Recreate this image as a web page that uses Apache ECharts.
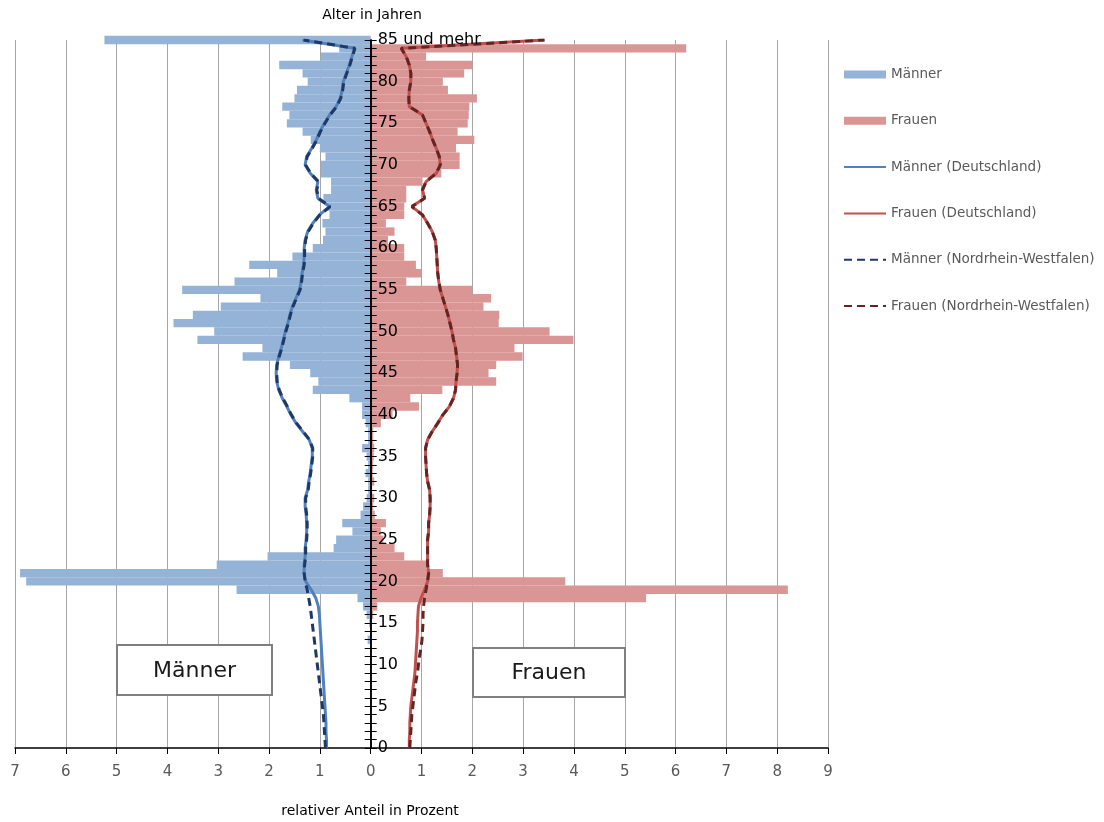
<!DOCTYPE html>
<html>
<head>
<meta charset="utf-8">
<script src="https://cdn.jsdelivr.net/npm/echarts@6/dist/echarts.min.js"></script>
<style>
  html, body { margin: 0; padding: 0; background: #ffffff; }
  #chart { width: 1104px; height: 822px; }
</style>
</head>
<body>
<div id="chart"></div>
<script>
// Age categories (0 .. 85 und mehr)
const ages = [];
for (let a = 0; a <= 84; a++) ages.push(String(a));
ages.push('85 und mehr');

// Relative share in percent (local population, bars)
const menShare = [
  0, 0, 0, 0, 0, 0, 0, 0, 0, 0,
  0, 0, 0, 0.06, 0, 0.03, 0.08, 0.15, 0.26, 2.64,
  6.78, 6.90, 3.03, 2.03, 0.73, 0.68, 0.36, 0.56, 0.20, 0.15,
  0.08, 0.05, 0.05, 0.10, 0.05, 0.08, 0.17, 0.05, 0.05, 0.10,
  0.17, 0.17, 0.42, 1.14, 1.03, 1.19, 1.59, 2.52, 2.13, 3.41,
  3.08, 3.88, 3.50, 2.95, 2.17, 3.71, 2.68, 1.84, 2.39, 1.54,
  1.14, 0.94, 0.89, 0.95, 0.81, 0.85, 0.93, 0.78, 0.78, 0.98,
  0.98, 0.89, 1.00, 1.18, 1.34, 1.65, 1.60, 1.74, 1.50, 1.45,
  1.24, 1.34, 1.80, 0.98, 0.62, 5.24
];
const womenShare = [
  0, 0, 0, 0, 0, 0, 0, 0, 0, 0,
  0, 0, 0, 0, 0, 0, 0, 0.05, 0.13, 5.42,
  8.21, 3.83, 1.42, 1.09, 0.66, 0.47, 0.25, 0.20, 0.30, 0.08,
  0.05, 0.07, 0.03, 0.07, 0.04, 0.05, 0.06, 0.07, 0.05, 0.05,
  0.20, 0.43, 0.95, 0.78, 1.41, 2.47, 2.32, 2.47, 2.99, 2.83,
  3.99, 3.52, 2.52, 2.53, 2.22, 2.37, 2.00, 0.70, 0.99, 0.89,
  0.66, 0.66, 0.34, 0.47, 0.30, 0.66, 0.66, 0.70, 0.70, 1.02,
  1.39, 1.75, 1.75, 1.68, 2.04, 1.71, 1.91, 1.93, 1.94, 2.09,
  1.52, 1.42, 1.84, 2.00, 1.09, 6.21
];

// Germany (lines)
const menDE = [
  0.87, 0.87, 0.88, 0.88, 0.89, 0.90, 0.91, 0.92, 0.93, 0.94,
  0.95, 0.96, 0.97, 0.98, 0.99, 1.00, 1.01, 1.03, 1.08, 1.17,
  1.28, 1.31, 1.31, 1.29, 1.29, 1.27, 1.26, 1.26, 1.27, 1.29,
  1.29, 1.24, 1.22, 1.19, 1.17, 1.15, 1.15, 1.21, 1.34, 1.47,
  1.57, 1.65, 1.74, 1.81, 1.85, 1.86, 1.85, 1.81, 1.76, 1.72,
  1.68, 1.63, 1.59, 1.54, 1.47, 1.40, 1.37, 1.35, 1.32, 1.31,
  1.31, 1.29, 1.24, 1.14, 1.01, 0.81, 1.04, 1.07, 1.04, 1.19,
  1.29, 1.26, 1.16, 1.07, 1.00, 0.91, 0.81, 0.68, 0.60, 0.56,
  0.54, 0.48, 0.42, 0.37, 0.32, 1.34
];
const womenDE = [
  0.76, 0.76, 0.77, 0.77, 0.78, 0.79, 0.81, 0.83, 0.85, 0.87,
  0.88, 0.89, 0.90, 0.91, 0.92, 0.92, 0.93, 0.94, 0.99, 1.06,
  1.12, 1.14, 1.12, 1.12, 1.12, 1.12, 1.14, 1.14, 1.16, 1.17,
  1.17, 1.16, 1.12, 1.10, 1.09, 1.08, 1.08, 1.12, 1.21, 1.32,
  1.42, 1.55, 1.63, 1.67, 1.68, 1.70, 1.71, 1.69, 1.67, 1.63,
  1.60, 1.56, 1.52, 1.47, 1.42, 1.37, 1.34, 1.32, 1.31, 1.30,
  1.29, 1.27, 1.21, 1.12, 1.02, 0.81, 1.06, 1.02, 1.09, 1.29,
  1.37, 1.35, 1.29, 1.22, 1.16, 1.09, 1.02, 0.76, 0.75, 0.76,
  0.79, 0.79, 0.76, 0.70, 0.60, 3.42
];

// Nordrhein-Westfalen (dashed lines)
const menNRW = [
  0.89, 0.90, 0.91, 0.92, 0.93, 0.95, 0.97, 0.99, 1.01, 1.03,
  1.05, 1.07, 1.09, 1.11, 1.13, 1.15, 1.17, 1.19, 1.22, 1.25,
  1.29, 1.31, 1.30, 1.28, 1.28, 1.26, 1.25, 1.25, 1.26, 1.28,
  1.28, 1.23, 1.21, 1.18, 1.16, 1.14, 1.14, 1.20, 1.33, 1.46,
  1.56, 1.64, 1.73, 1.80, 1.84, 1.85, 1.84, 1.80, 1.75, 1.71,
  1.67, 1.62, 1.58, 1.53, 1.46, 1.39, 1.36, 1.34, 1.31, 1.30,
  1.30, 1.28, 1.23, 1.13, 1.00, 0.80, 1.03, 1.06, 1.03, 1.18,
  1.28, 1.25, 1.15, 1.06, 0.99, 0.90, 0.80, 0.67, 0.59, 0.55,
  0.53, 0.47, 0.41, 0.36, 0.31, 1.32
];
const womenNRW = [
  0.77, 0.78, 0.79, 0.80, 0.81, 0.83, 0.85, 0.87, 0.89, 0.92,
  0.94, 0.96, 0.99, 1.01, 1.02, 1.03, 1.03, 1.04, 1.06, 1.09,
  1.12, 1.14, 1.12, 1.12, 1.12, 1.12, 1.14, 1.14, 1.16, 1.17,
  1.17, 1.16, 1.12, 1.10, 1.09, 1.08, 1.08, 1.12, 1.21, 1.32,
  1.42, 1.55, 1.63, 1.67, 1.68, 1.70, 1.71, 1.69, 1.67, 1.63,
  1.60, 1.56, 1.52, 1.47, 1.42, 1.37, 1.34, 1.32, 1.31, 1.30,
  1.29, 1.27, 1.21, 1.12, 1.02, 0.81, 1.06, 1.02, 1.09, 1.29,
  1.37, 1.35, 1.29, 1.22, 1.16, 1.09, 1.02, 0.76, 0.75, 0.76,
  0.79, 0.79, 0.76, 0.70, 0.60, 3.42
];

const seriesNames = ['Männer', 'Frauen', 'Männer (Deutschland)', 'Frauen (Deutschland)',
  'Männer (Nordrhein-Westfalen)', 'Frauen (Nordrhein-Westfalen)'];

const FONT = 'DejaVu Sans';
const neg = arr => arr.map(v => -v);

const chart = echarts.init(document.getElementById('chart'), null, { renderer: 'canvas' });

// plot geometry
const G = { left: 15, right: 276, top: 40, bottom: 74 };
const X_MIN = -7, X_MAX = 9;
const plotW = 1104 - G.left - G.right;
const zeroOffset = plotW * (0 - X_MIN) / (X_MAX - X_MIN);
const halfBand = (822 - G.top - G.bottom) / (ages.length - 1) / 2;

const hiddenSymbol = { opacity: 0 };

const option = {
  animation: false,
  backgroundColor: '#ffffff',
  textStyle: { fontFamily: FONT },
  grid: [
    { left: G.left, right: G.right, top: G.top, bottom: G.bottom, containLabel: false },
    { left: G.left, right: G.right, top: G.top + halfBand, bottom: G.bottom - halfBand, containLabel: false }
  ],
  legend: {
    orient: 'vertical',
    left: 843,
    top: 67.5,
    padding: 0,
    itemWidth: 42,
    itemHeight: 8,
    itemGap: 32.3,
    textStyle: { fontFamily: FONT, fontSize: 13.5, color: '#595959' },
    data: [
      { name: seriesNames[0], icon: 'rect' },
      { name: seriesNames[1], icon: 'rect' },
      { name: seriesNames[2], itemStyle: hiddenSymbol },
      { name: seriesNames[3], itemStyle: hiddenSymbol },
      { name: seriesNames[4], itemStyle: hiddenSymbol },
      { name: seriesNames[5], itemStyle: hiddenSymbol }
    ]
  },
  xAxis: [
    {
      gridIndex: 0,
      type: 'value',
      min: X_MIN,
      max: X_MAX,
      interval: 1,
      axisLine: { show: true, onZero: false, lineStyle: { color: '#000', width: 1.5 } },
      axisTick: { show: true, length: 6, lineStyle: { color: '#000' } },
      axisLabel: {
        formatter: v => String(Math.abs(v)),
        color: '#595959', fontSize: 15, fontFamily: FONT, margin: 17
      },
      splitLine: { show: true, lineStyle: { color: '#a6a6a6', width: 1 } }
    },
    { gridIndex: 1, type: 'value', min: X_MIN, max: X_MAX, interval: 1, show: false }
  ],
  yAxis: [
    {
      gridIndex: 0,
      type: 'category',
      data: ages,
      boundaryGap: false,
      position: 'left',
      z: 10,
      axisLine: { show: true, onZero: true, onZeroAxisIndex: 0, lineStyle: { color: '#000', width: 1.5 } },
      axisTick: { show: true, inside: true, length: 6, interval: 0, lineStyle: { color: '#000' } },
      axisLabel: { show: false },
      splitLine: { show: false }
    },
    {
      gridIndex: 0,
      type: 'category',
      data: ages,
      boundaryGap: false,
      position: 'left',
      z: 10,
      axisLine: { show: true, onZero: true, onZeroAxisIndex: 0, lineStyle: { color: '#000', width: 1.5 } },
      axisTick: { show: true, inside: false, length: 6, interval: 0, lineStyle: { color: '#000' } },
      axisLabel: { show: false },
      splitLine: { show: false }
    },
    {
      // label-only axis placed at the zero line
      gridIndex: 0,
      type: 'category',
      data: ages,
      boundaryGap: false,
      position: 'left',
      offset: -zeroOffset,
      z: 10,
      axisLine: { show: false, onZero: false },
      axisTick: { show: false },
      axisLabel: { show: true, inside: true, interval: 4, color: '#000', fontSize: 16, fontFamily: FONT, margin: 7 },
      splitLine: { show: false }
    },
    { gridIndex: 1, type: 'category', data: ages, boundaryGap: false, show: false }
  ],
  series: [
    {
      name: seriesNames[0], type: 'bar', xAxisIndex: 1, yAxisIndex: 3,
      data: neg(menShare), barWidth: '100%', barGap: '0%', clip: false,
      itemStyle: { color: '#95B3D7' }, z: 2
    },
    {
      name: seriesNames[1], type: 'bar', xAxisIndex: 1, yAxisIndex: 3,
      data: womenShare, barWidth: '100%', barGap: '0%', clip: false,
      itemStyle: { color: '#DA9694' }, z: 2
    },
    {
      name: seriesNames[2], type: 'line', xAxisIndex: 0, yAxisIndex: 0,
      data: neg(menDE), symbol: 'none', z: 5,
      lineStyle: { color: '#4F81BD', width: 3 }, itemStyle: { color: '#4F81BD' }
    },
    {
      name: seriesNames[3], type: 'line', xAxisIndex: 0, yAxisIndex: 0,
      data: womenDE, symbol: 'none', z: 5,
      lineStyle: { color: '#C0504D', width: 3 }, itemStyle: { color: '#C0504D' }
    },
    {
      name: seriesNames[4], type: 'line', xAxisIndex: 0, yAxisIndex: 0,
      data: neg(menNRW), symbol: 'none', z: 6,
      lineStyle: { color: '#1F3864', width: 3, type: [8, 5] }, itemStyle: { color: '#1F3864' }
    },
    {
      name: seriesNames[5], type: 'line', xAxisIndex: 0, yAxisIndex: 0,
      data: womenNRW, symbol: 'none', z: 6,
      lineStyle: { color: '#632523', width: 3, type: [8, 5] }, itemStyle: { color: '#632523' }
    }
  ],
  graphic: [
    {
      type: 'text', z: 100, x: 372, y: 15,
      style: { text: 'Alter in Jahren', fill: '#000', font: '14px "DejaVu Sans"', textAlign: 'center', textVerticalAlign: 'middle' }
    },
    {
      type: 'text', z: 100, x: 370, y: 811,
      style: { text: 'relativer Anteil in Prozent', fill: '#000', font: '14px "DejaVu Sans"', textAlign: 'center', textVerticalAlign: 'middle' }
    },
    {
      type: 'rect', z: 100,
      shape: { x: 117, y: 645, width: 155, height: 50 },
      style: { fill: '#ffffff', stroke: '#7f7f7f', lineWidth: 2 }
    },
    {
      type: 'text', z: 101, x: 194.5, y: 671,
      style: { text: 'Männer', fill: '#1a1a1a', font: '22px "DejaVu Sans"', textAlign: 'center', textVerticalAlign: 'middle' }
    },
    {
      type: 'rect', z: 100,
      shape: { x: 473, y: 648, width: 152, height: 49 },
      style: { fill: '#ffffff', stroke: '#7f7f7f', lineWidth: 2 }
    },
    {
      type: 'text', z: 101, x: 549, y: 673,
      style: { text: 'Frauen', fill: '#1a1a1a', font: '22px "DejaVu Sans"', textAlign: 'center', textVerticalAlign: 'middle' }
    }
  ]
};

chart.setOption(option);
</script>
</body>
</html>
